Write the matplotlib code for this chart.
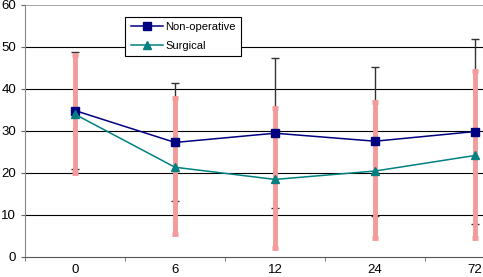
import numpy as np
import matplotlib
matplotlib.use("Agg")
import matplotlib.pyplot as plt

plt.rcParams['font.family'] = ['Liberation Sans', 'DejaVu Sans']

# data
months = ["0", "6", "12", "24", "72"]
nonop_mean = [34.8, 27.2, 29.4, 27.5, 29.8]
nonop_upper = [48.7, 41.3, 47.2, 45.2, 51.8]
nonop_lower = [20.9, 13.3, 11.7, 9.7, 7.7]
surg_mean = [33.9, 21.3, 18.4, 20.4, 24.1]
surg_upper = [48.0, 37.7, 35.3, 36.9, 44.2]
surg_lower = [20.0, 5.3, 2.0, 4.5, 4.5]

x = np.arange(len(months))
nonop_mean = np.array(nonop_mean)
surg_mean = np.array(surg_mean)

fig = plt.figure(figsize=(4.83, 2.77), dpi=100)
# axis runs past the right edge, like the original
ax = fig.add_axes([25 / 483, 20.3 / 277, 500 / 483, 252 / 277])

for v in range(10, 60, 10):
    ax.axhline(v, color='#000000', lw=0.8, zorder=0)
ax.axhline(60, color='#999999', lw=1.2, zorder=0)

# non-operative error bars (thin black)
ax.errorbar(x, nonop_mean,
            yerr=[nonop_mean - np.array(nonop_lower), np.array(nonop_upper) - nonop_mean],
            fmt='none', ecolor='#333333', elinewidth=1.0, capsize=3, capthick=1.0, zorder=2)

# surgical error bars (thick pink)
ax.errorbar(x, surg_mean,
            yerr=[surg_mean - np.array(surg_lower), np.array(surg_upper) - surg_mean],
            fmt='none', ecolor='#F59A9A', elinewidth=3.5, capsize=2, capthick=3.5, zorder=3)

ax.plot(x, nonop_mean, color='#000080', marker='s', markersize=6, lw=1.1,
        label='Non-operative', zorder=5)
ax.plot(x, surg_mean, color='#008080', marker='^', markersize=6, lw=1.1,
        label='Surgical', zorder=5)

ax.set_xlim(-0.5, 4.5)
ax.set_ylim(0, 60)
ax.set_yticks(range(0, 70, 10))
ax.set_xticks(x)
ax.set_xticklabels(months)
ax.set_xticks(np.arange(-0.5, 5, 1), minor=True)
ax.tick_params(axis='x', which='major', length=0, pad=5.5, labelsize=9.5)
ax.tick_params(axis='x', which='minor', length=3, direction='out', color='#666666')
ax.tick_params(axis='y', length=3, direction='out', color='#666666', labelsize=9.5, pad=3.5)

for s in ['top', 'right']:
    ax.spines[s].set_visible(False)
ax.spines['left'].set_color('#888888')
ax.spines['bottom'].set_color('#555555')

leg = ax.legend(loc='upper left', bbox_to_anchor=(100 / 500, 1 - 12 / 252), fontsize=8,
                frameon=True, fancybox=False, edgecolor='black', framealpha=1,
                borderaxespad=0, borderpad=0.5, handlelength=2.9, labelspacing=0.75,
                handletextpad=0.2)
leg.get_frame().set_linewidth(0.8)

fig.savefig('out.png', dpi=100)
